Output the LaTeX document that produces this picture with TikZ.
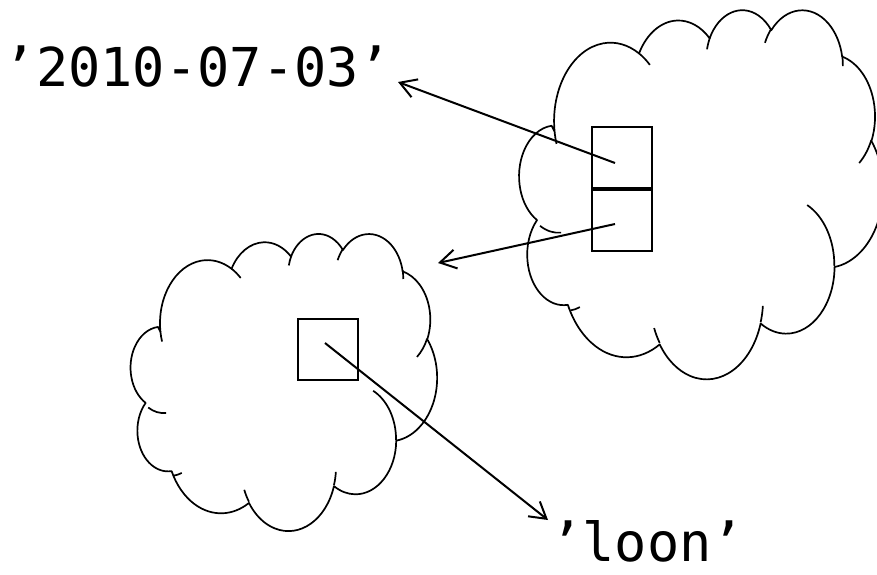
\documentclass[tikz,border=0pt]{standalone}
\usepackage{fontspec}
\newfontfamily\codefont{DejaVu Sans Mono}[Ligatures=TeX]
\usetikzlibrary{arrows.meta}

% Elliptical arcs of the cloud outline are given by their radii and by
% "visual" start/sweep angles; convert them to the parametric angles TikZ uses.
\newcommand\cloudangle[5]{%
  \pgfmathsetmacro\cloudtmpa{atan2(#2*sin(#4),#3*cos(#4))}%
  \pgfmathsetmacro\cloudtmpb{atan2(#2*sin(#4+#5),#3*cos(#4+#5))}%
  \pgfmathsetmacro\cloudtmpd{\cloudtmpb-\cloudtmpa+360*(\cloudtmpb<\cloudtmpa)}%
  \expandafter\xdef\csname cloudS#1\endcsname{\cloudtmpa}%
  \expandafter\xdef\csname cloudD#1\endcsname{\cloudtmpd}%
}
% outline bumps
\cloudangle{a}{67.53}{91.90}{-190.4875}{123.7805}
\cloudangle{b}{53.33}{72.67}{-144.1024}{89.9452}
\cloudangle{c}{43.65}{59.45}{-145.8079}{99.7230}
\cloudangle{d}{48.57}{65.95}{-130.9861}{117.2417}
\cloudangle{e}{53.33}{72.73}{-78.7089}{109.0269}
\cloudangle{f}{67.75}{92.20}{-46.2673}{130.2690}
\cloudangle{g}{57.85}{78.67}{0.6250}{114.0333}
\cloudangle{h}{67.52}{92.15}{22.4516}{115.1726}
\cloudangle{i}{77.20}{105.43}{66.2426}{81.6373}
\cloudangle{j}{43.60}{59.18}{-274.9421}{146.7356}
\cloudangle{k}{43.45}{59.45}{-246.8285}{152.5189}
% inner hooks where bumps meet
\cloudangle{la}{43.45}{59.45}{86.742}{26.4295}
\cloudangle{lb}{43.60}{59.18}{73.6105}{11.4475}
\cloudangle{lc}{67.52}{92.15}{137.6242}{14.0811}
\cloudangle{ld}{67.52}{92.15}{6.4533}{15.9984}
\cloudangle{le}{57.85}{78.67}{-70.2924}{70.9174}
\cloudangle{lf}{53.33}{72.73}{30.3180}{27.7515}
\cloudangle{lg}{48.57}{65.95}{-13.7443}{14.8589}
\cloudangle{lh}{48.57}{65.95}{-149.1815}{18.1954}
\cloudangle{li}{43.65}{59.45}{-163.4943}{17.6864}
\cloudangle{lj}{67.53}{91.90}{-66.7070}{12.3194}
\cloudangle{lk}{67.53}{91.90}{157.6544}{11.8582}

\tikzset{
  cloudline/.style={line width=1.7pt, line join=round},
  cellbox/.style={draw, line width=2pt, minimum width=60pt, minimum height=61pt, inner sep=0pt},
  ref/.style={line width=2pt, -{Straight Barb[length=16pt, width=19pt, line width=2pt]}},
  codetext/.style={font=\codefont\fontsize{53.6}{60}\selectfont, inner sep=0pt, text depth=0pt},
  % cloud drawn in a 432 x 432 frame, y pointing down
  cloudpic/.pic={
    \draw[cloudline] (39.00,143.70)
      arc[x radius=67.53, y radius=91.90,  start angle=\cloudSa, delta angle=\cloudDa]
      arc[x radius=53.33, y radius=72.67,  start angle=\cloudSb, delta angle=\cloudDb]
      arc[x radius=43.65, y radius=59.45,  start angle=\cloudSc, delta angle=\cloudDc]
      arc[x radius=48.57, y radius=65.95,  start angle=\cloudSd, delta angle=\cloudDd]
      arc[x radius=53.33, y radius=72.73,  start angle=\cloudSe, delta angle=\cloudDe]
      arc[x radius=67.75, y radius=92.20,  start angle=\cloudSf, delta angle=\cloudDf]
      arc[x radius=57.85, y radius=78.67,  start angle=\cloudSg, delta angle=\cloudDg]
      arc[x radius=67.52, y radius=92.15,  start angle=\cloudSh, delta angle=\cloudDh]
      arc[x radius=77.20, y radius=105.43, start angle=\cloudSi, delta angle=\cloudDi]
      arc[x radius=43.60, y radius=59.18,  start angle=\cloudSj, delta angle=\cloudDj]
      arc[x radius=43.45, y radius=59.45,  start angle=\cloudSk, delta angle=\cloudDk]
      -- cycle;
    \draw[cloudline]
      (46.93,261.77)  arc[x radius=43.45, y radius=59.45, start angle=\cloudSla, delta angle=\cloudDla]
      (69.28,348.99)  arc[x radius=43.60, y radius=59.18, start angle=\cloudSlb, delta angle=\cloudDlb]
      (164.78,390.90) arc[x radius=67.52, y radius=92.15, start angle=\cloudSlc, delta angle=\cloudDlc]
      (288.27,347.51) arc[x radius=67.52, y radius=92.15, start angle=\cloudSld, delta angle=\cloudDld]
      (341.29,229.54) arc[x radius=57.85, y radius=78.67, start angle=\cloudSle, delta angle=\cloudDle]
      (417.98,153.54) arc[x radius=53.33, y radius=72.73, start angle=\cloudSlf, delta angle=\cloudDlf]
      (383.24,54.26)  arc[x radius=48.57, y radius=65.95, start angle=\cloudSlg, delta angle=\cloudDlg]
      (290.78,39.52)  arc[x radius=48.57, y radius=65.95, start angle=\cloudSlh, delta angle=\cloudDlh]
      (221.41,47.20)  arc[x radius=43.65, y radius=59.45, start angle=\cloudSli, delta angle=\cloudDli]
      (140.00,51.92)  arc[x radius=67.53, y radius=91.90, start angle=\cloudSlj, delta angle=\cloudDlj]
      (41.27,157.89)  arc[x radius=67.53, y radius=91.90, start angle=\cloudSlk, delta angle=\cloudDlk];
  }
}

\begin{document}
\begin{tikzpicture}[x=1pt, y=-1pt]
  \useasboundingbox (0,0) rectangle (877,574);
  \clip (0,0) rectangle (877,574);

  % the two objects
  \begin{scope}[shift={(133,233)}, x=0.7037pt, y=-0.6875pt]
    \pic {cloudpic};
  \end{scope}
  \begin{scope}[shift={(522,9)}, x=0.8356pt, y=-0.8542pt]
    \pic {cloudpic};
  \end{scope}

  % reference cells
  \node[cellbox] (item) at (327.5,349.5) {};
  \node[cellbox] (first) at (622,157.5) {};
  \node[cellbox, anchor=north] (second) at (first.south) {};

  % values
  \node[codetext, anchor=base] (date) at (197.5,86) {'2010-07-03'};
  \node[codetext, anchor=base] (loon) at (647,561) {'loon'};

  % pointer ends
  \coordinate (fromfirst)  at (615,163);
  \coordinate (fromsecond) at (615,224);
  \coordinate (fromitem)   at (325,343);
  \coordinate (todate)     at (398,82);
  \coordinate (tocloud)    at (438,263);
  \coordinate (toloon)     at (548,520);

  \draw[ref] (fromfirst) -- (todate);
  \draw[ref] (fromsecond) -- (tocloud);
  \draw[ref] (fromitem) -- (toloon);
\end{tikzpicture}
\end{document}
